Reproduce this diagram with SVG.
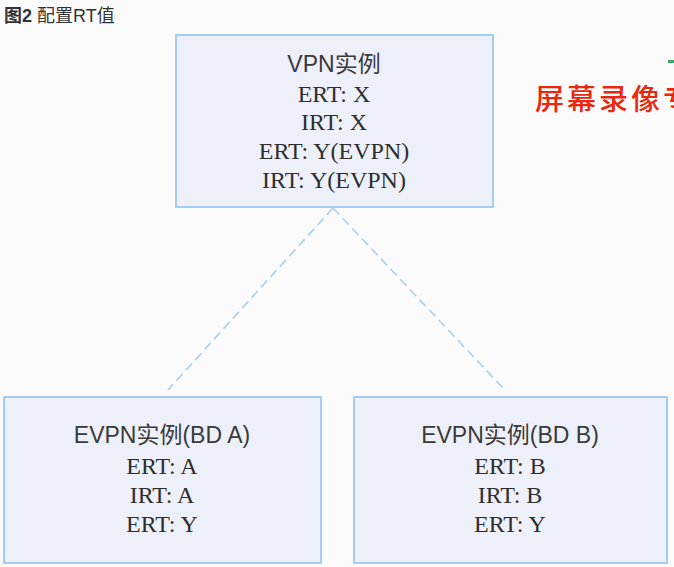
<svg xmlns="http://www.w3.org/2000/svg" width="674" height="567" viewBox="0 0 674 567">
<style>
.box{fill:#eef0f9;stroke:#a3cdf2;stroke-width:2}
.sans{font-family:"Liberation Sans",Arial,"Noto Sans CJK SC",sans-serif;font-size:23px;fill:#3a3a3a;text-anchor:middle}
.serif{font-family:"Liberation Serif","Times New Roman","Noto Sans CJK SC",serif;font-size:24px;fill:#2e2e2e;text-anchor:middle}
.conn{stroke:#a8d0ec;stroke-width:1.6;stroke-dasharray:9 5;fill:none}
</style>
<rect width="674" height="567" fill="#fbfbfb"/>
<text x="4" y="22" font-family="'Liberation Sans','Noto Sans CJK SC',sans-serif" font-size="18" fill="#333"><tspan font-weight="bold">图2</tspan> 配置RT值</text>
<text x="535" y="110" font-family="'Noto Sans CJK SC',serif" font-size="29" font-weight="500" letter-spacing="3" fill="#e8280f">屏幕录像专</text>
<rect x="668" y="60" width="6" height="3" fill="#3aa86a"/>
<g id="connectors">
<line class="conn" x1="333" y1="208" x2="168" y2="390"/>
<line class="conn" x1="333" y1="208" x2="503" y2="388"/>
</g>
<g id="vpn">
<rect class="box" x="176" y="35" width="317" height="172"/>
<text class="sans" x="334" y="72">VPN实例</text>
<text class="serif" x="334" y="102">ERT: X</text>
<text class="serif" x="334" y="130">IRT: X</text>
<text class="serif" x="334" y="159">ERT: Y(EVPN)</text>
<text class="serif" x="334" y="188">IRT: Y(EVPN)</text>
</g>
<g id="evpnA">
<rect class="box" x="4" y="397" width="317" height="166"/>
<text class="sans" x="162" y="443">EVPN实例(BD A)</text>
<text class="serif" x="162" y="474">ERT: A</text>
<text class="serif" x="162" y="503">IRT: A</text>
<text class="serif" x="162" y="532">ERT: Y</text>
</g>
<g id="evpnB">
<rect class="box" x="354" y="397" width="313" height="166"/>
<text class="sans" x="510" y="443">EVPN实例(BD B)</text>
<text class="serif" x="510" y="474">ERT: B</text>
<text class="serif" x="510" y="503">IRT: B</text>
<text class="serif" x="510" y="532">ERT: Y</text>
</g>
</svg>
